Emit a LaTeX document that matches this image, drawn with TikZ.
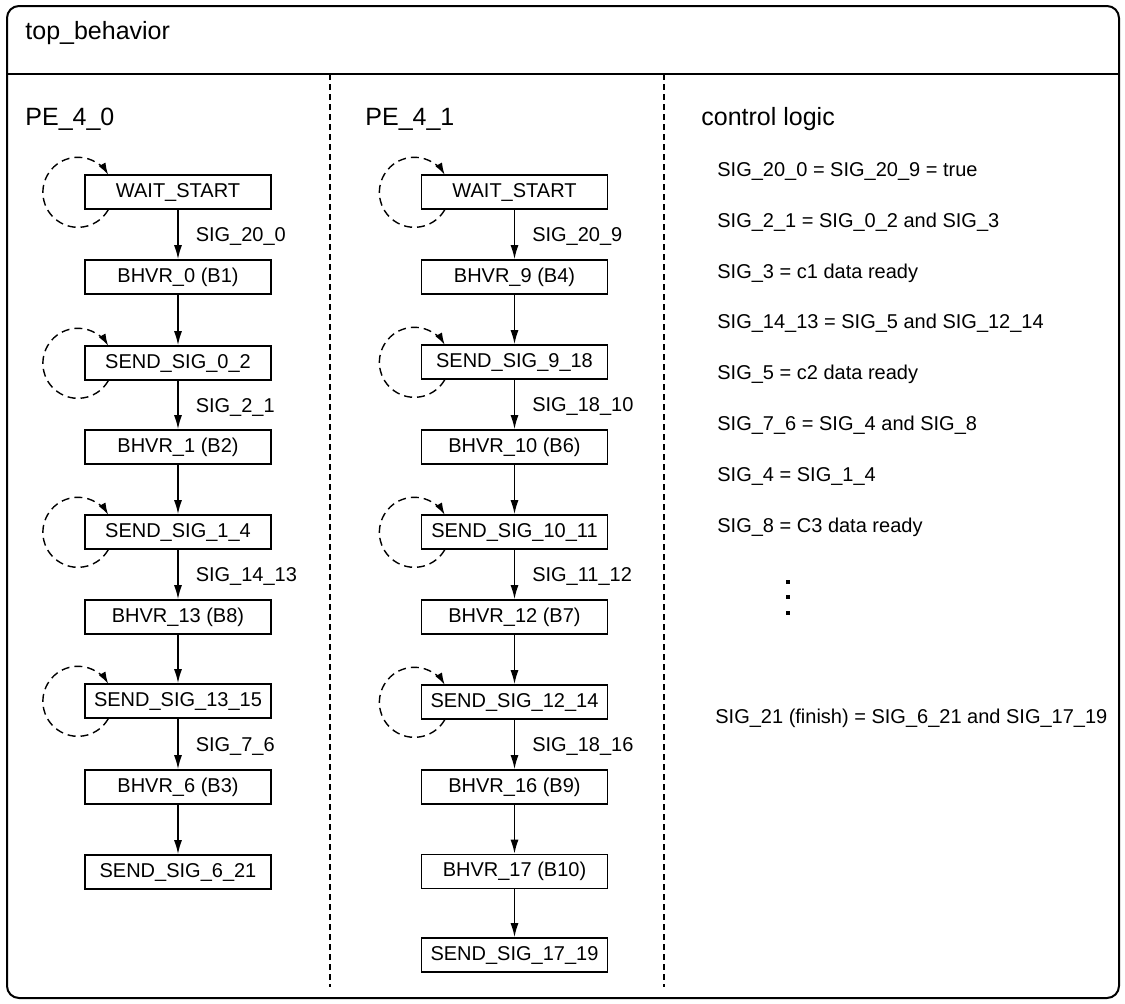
\documentclass[tikz,border=0pt]{standalone}
\usepackage{fontspec}
\setmainfont{Liberation Sans}
\usetikzlibrary{arrows.meta}
\tikzset{
  box/.style={draw, line width=0.8pt, minimum width=93pt, minimum height=17pt, inner sep=0pt, font=\fontsize{10}{12}\selectfont},
  flow/.style={line width=0.75pt, -{Latex[length=7pt,width=4pt]}},
  selfloop/.style={line width=0.7pt, dash pattern=on 4pt off 2.5pt, -{Latex[length=6pt,width=3.8pt]}},
  elab/.style={right, inner sep=0pt, xshift=8.5pt, yshift=-1pt, font=\fontsize{10}{12}\selectfont},
  ctext/.style={anchor=base west, inner sep=0pt, font=\fontsize{10}{12}\selectfont},
  head/.style={anchor=base west, inner sep=0pt, font=\fontsize{12.5}{15}\selectfont},
  sep/.style={line width=0.7pt, dash pattern=on 3pt off 2pt},
  dotsq/.style={fill=black, minimum size=2.2pt, inner sep=0pt},
}
\begin{document}
\begin{tikzpicture}[x=0.5pt,y=0.5pt]
\useasboundingbox (0,0) rectangle (1125,-1003);
% outer frame
\draw[line width=1pt, rounded corners=6pt] (7,-6) rectangle (1119,-998);
\draw[line width=1pt] (7,-74) -- (1119,-74);
\node[head] (title) at (25,-39) {top\_behavior};
% separators
\coordinate (s1t) at (330,-74); \coordinate (s1b) at (330,-987);
\coordinate (s2t) at (664,-74); \coordinate (s2b) at (664,-987);
\draw[sep] (s1t) -- (s1b);
\draw[sep] (s2t) -- (s2b);
% headings
\node[head] (pe0) at (25,-125) {PE\_4\_0};
\node[head] (pe1) at (365,-125) {PE\_4\_1};
\node[head] (cl) at (701,-125) {control logic};
% left column
\node[box] (a0) at (178,-192) {WAIT\_START};
\node[box] (a1) at (178,-277) {BHVR\_0 (B1)};
\node[box] (a2) at (178,-363) {SEND\_SIG\_0\_2};
\node[box] (a3) at (178,-447) {BHVR\_1 (B2)};
\node[box] (a4) at (178,-532) {SEND\_SIG\_1\_4};
\node[box] (a5) at (178,-617) {BHVR\_13 (B8)};
\node[box] (a6) at (178,-701) {SEND\_SIG\_13\_15};
\node[box] (a7) at (178,-787) {BHVR\_6 (B3)};
\node[box] (a8) at (178,-872) {SEND\_SIG\_6\_21};
\draw[flow] (a0) -- node[elab] {SIG\_20\_0} (a1);
\draw[flow] (a1) -- (a2);
\draw[flow] (a2) -- node[elab] {SIG\_2\_1} (a3);
\draw[flow] (a3) -- (a4);
\draw[flow] (a4) -- node[elab] {SIG\_14\_13} (a5);
\draw[flow] (a5) -- (a6);
\draw[flow] (a6) -- node[elab] {SIG\_7\_6} (a7);
\draw[flow] (a7) -- (a8);
% middle column
\node[box] (b0) at (514.5,-192) {WAIT\_START};
\node[box] (b1) at (514.5,-277) {BHVR\_9 (B4)};
\node[box] (b2) at (514.5,-362) {SEND\_SIG\_9\_18};
\node[box] (b3) at (514.5,-447) {BHVR\_10 (B6)};
\node[box] (b4) at (514.5,-532) {SEND\_SIG\_10\_11};
\node[box] (b5) at (514.5,-617) {BHVR\_12 (B7)};
\node[box] (b6) at (514.5,-702) {SEND\_SIG\_12\_14};
\node[box] (b7) at (514.5,-787) {BHVR\_16 (B9)};
\node[box] (b8) at (514.5,-871.5) {BHVR\_17 (B10)};
\node[box] (b9) at (514.5,-955) {SEND\_SIG\_17\_19};
\draw[flow] (b0) -- node[elab] {SIG\_20\_9} (b1);
\draw[flow] (b1) -- (b2);
\draw[flow] (b2) -- node[elab] {SIG\_18\_10} (b3);
\draw[flow] (b3) -- (b4);
\draw[flow] (b4) -- node[elab] {SIG\_11\_12} (b5);
\draw[flow] (b5) -- (b6);
\draw[flow] (b6) -- node[elab] {SIG\_18\_16} (b7);
\draw[flow] (b7) -- (b8);
\draw[flow] (b8) -- (b9);
% self loops
\foreach \n in {a0,a2,a4,a6,b0,b2,b4,b6}{
  \draw[selfloop] ([xshift=12pt]\n.south west) arc[start angle=-30, end angle=-330, radius=17.5pt];
}
% control logic
\node[ctext] (c1) at (717,-176) {SIG\_20\_0 = SIG\_20\_9 = true};
\node[ctext] (c2) at (717,-227) {SIG\_2\_1 = SIG\_0\_2 and SIG\_3};
\node[ctext] (c3) at (717,-278) {SIG\_3 = c1 data ready};
\node[ctext] (c4) at (717,-328) {SIG\_14\_13 = SIG\_5 and SIG\_12\_14};
\node[ctext] (c5) at (717,-379) {SIG\_5 = c2 data ready};
\node[ctext] (c6) at (717,-430) {SIG\_7\_6 = SIG\_4 and SIG\_8};
\node[ctext] (c7) at (717,-481) {SIG\_4 = SIG\_1\_4};
\node[ctext] (c8) at (717,-532) {SIG\_8 = C3 data ready};
\node[dotsq] (d1) at (788,-582) {};
\node[dotsq] (d2) at (788,-597) {};
\node[dotsq] (d3) at (788,-613) {};
\node[ctext] (c9) at (715,-723) {SIG\_21 (finish) = SIG\_6\_21 and SIG\_17\_19};
\end{tikzpicture}
\end{document}
